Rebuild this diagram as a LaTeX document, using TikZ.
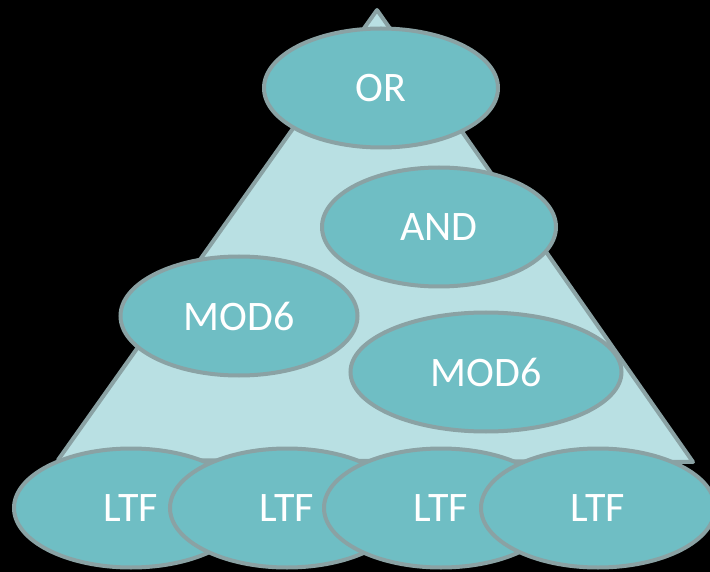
\documentclass[tikz,border=0pt]{standalone}
\usepackage{fontspec}
\setmainfont{Carlito}
\usetikzlibrary{shapes.geometric}

\definecolor{gatefill}{HTML}{6FBEC4}
\definecolor{gateline}{HTML}{8AA2A4}
\definecolor{pyramidfill}{HTML}{B9E0E3}

\begin{document}
\begin{tikzpicture}[
    x=1pt, y=-1pt,
    gate/.style={
        ellipse,
        draw=gateline,
        line width=4pt,
        fill=gatefill,
        text=white,
        font=\fontsize{42}{42}\selectfont,
        inner sep=0pt,
        minimum width=234pt,
        minimum height=119pt
    },
    widegate/.style={
        gate,
        minimum width=271pt
    }
]

% Background
\fill[black] (0,0) rectangle (710,572);
\useasboundingbox (0,0) rectangle (710,572);

% Pyramid
\coordinate (top) at (377,10);
\coordinate (bl) at (58,460);
\coordinate (br) at (693,462);
\draw[gateline, fill=pyramidfill, line width=4pt, line join=round]
    (top) -- (br) -- (bl) -- cycle;

% Top gates
\node[gate] (or) at (381,88) {OR};
\node[gate] (and) at (439,227) {AND};

% Middle layer
\node[gate, minimum width=237pt] (modl) at (239,316) {MOD6};
\node[widegate] (modr) at (486,372) {MOD6};

% Bottom layer
\node[gate] (ltf1) at (131,508) {LTF};
\node[gate] (ltf2) at (287,508) {LTF};
\node[gate] (ltf3) at (441,508) {LTF};
\node[gate] (ltf4) at (598,508) {LTF};

\end{tikzpicture}
\end{document}
